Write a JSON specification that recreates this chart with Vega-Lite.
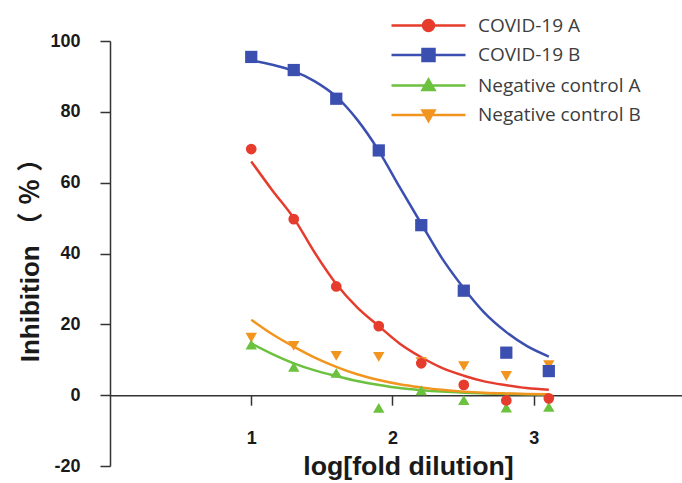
{
  "$schema": "https://vega.github.io/schema/vega-lite/v6.json",
  "width": 572,
  "height": 425,
  "autosize": {"type": "none"},
  "padding": {"left": 110, "top": 41, "right": 0, "bottom": 17},
  "background": "white",
  "config": {"view": {"stroke": null}, "axis": {"grid": false}},
  "datasets": {
    "fit": [
      {"series": "COVID-19 A", "x": 1.0, "y": 66.0}, {"series": "COVID-19 A", "x": 1.15, "y": 57.8}, {"series": "COVID-19 A", "x": 1.301, "y": 50.0}, {"series": "COVID-19 A", "x": 1.45, "y": 40.2}, {"series": "COVID-19 A", "x": 1.602, "y": 31.4}, {"series": "COVID-19 A", "x": 1.75, "y": 24.8}, {"series": "COVID-19 A", "x": 1.903, "y": 19.5}, {"series": "COVID-19 A", "x": 2.05, "y": 14.6}, {"series": "COVID-19 A", "x": 2.204, "y": 10.7}, {"series": "COVID-19 A", "x": 2.35, "y": 7.7}, {"series": "COVID-19 A", "x": 2.505, "y": 5.5}, {"series": "COVID-19 A", "x": 2.65, "y": 3.9}, {"series": "COVID-19 A", "x": 2.806, "y": 2.8}, {"series": "COVID-19 A", "x": 2.95, "y": 2.0}, {"series": "COVID-19 A", "x": 3.107, "y": 1.5},
      {"series": "COVID-19 B", "x": 1.0, "y": 94.5}, {"series": "COVID-19 B", "x": 1.15, "y": 93.3}, {"series": "COVID-19 B", "x": 1.301, "y": 91.5}, {"series": "COVID-19 B", "x": 1.45, "y": 88.6}, {"series": "COVID-19 B", "x": 1.602, "y": 84.3}, {"series": "COVID-19 B", "x": 1.75, "y": 77.8}, {"series": "COVID-19 B", "x": 1.903, "y": 69.0}, {"series": "COVID-19 B", "x": 2.05, "y": 58.8}, {"series": "COVID-19 B", "x": 2.204, "y": 48.4}, {"series": "COVID-19 B", "x": 2.35, "y": 38.7}, {"series": "COVID-19 B", "x": 2.505, "y": 30.2}, {"series": "COVID-19 B", "x": 2.65, "y": 23.3}, {"series": "COVID-19 B", "x": 2.806, "y": 17.8}, {"series": "COVID-19 B", "x": 2.95, "y": 13.9}, {"series": "COVID-19 B", "x": 3.107, "y": 10.9},
      {"series": "Negative control A", "x": 1.0, "y": 14.6}, {"series": "Negative control A", "x": 1.15, "y": 11.6}, {"series": "Negative control A", "x": 1.301, "y": 9.0}, {"series": "Negative control A", "x": 1.45, "y": 7.0}, {"series": "Negative control A", "x": 1.602, "y": 5.4}, {"series": "Negative control A", "x": 1.75, "y": 4.0}, {"series": "Negative control A", "x": 1.903, "y": 2.9}, {"series": "Negative control A", "x": 2.05, "y": 2.0}, {"series": "Negative control A", "x": 2.204, "y": 1.4}, {"series": "Negative control A", "x": 2.35, "y": 1.0}, {"series": "Negative control A", "x": 2.505, "y": 0.7}, {"series": "Negative control A", "x": 2.65, "y": 0.5}, {"series": "Negative control A", "x": 2.806, "y": 0.35}, {"series": "Negative control A", "x": 2.95, "y": 0.25}, {"series": "Negative control A", "x": 3.107, "y": 0.2},
      {"series": "Negative control B", "x": 1.0, "y": 21.3}, {"series": "Negative control B", "x": 1.15, "y": 17.2}, {"series": "Negative control B", "x": 1.301, "y": 13.7}, {"series": "Negative control B", "x": 1.45, "y": 10.6}, {"series": "Negative control B", "x": 1.602, "y": 8.0}, {"series": "Negative control B", "x": 1.75, "y": 5.9}, {"series": "Negative control B", "x": 1.903, "y": 4.3}, {"series": "Negative control B", "x": 2.05, "y": 3.1}, {"series": "Negative control B", "x": 2.204, "y": 2.2}, {"series": "Negative control B", "x": 2.35, "y": 1.5}, {"series": "Negative control B", "x": 2.505, "y": 1.0}, {"series": "Negative control B", "x": 2.65, "y": 0.7}, {"series": "Negative control B", "x": 2.806, "y": 0.5}, {"series": "Negative control B", "x": 2.95, "y": 0.35}, {"series": "Negative control B", "x": 3.107, "y": 0.25}
    ],
    "pts": [
      {"series": "Negative control B", "x": 1.0, "y": 16.2}, {"series": "Negative control B", "x": 1.301, "y": 13.9}, {"series": "Negative control B", "x": 1.602, "y": 11.1}, {"series": "Negative control B", "x": 1.903, "y": 10.8}, {"series": "Negative control B", "x": 2.204, "y": 9.3}, {"series": "Negative control B", "x": 2.505, "y": 8.2}, {"series": "Negative control B", "x": 2.806, "y": 5.4}, {"series": "Negative control B", "x": 3.107, "y": 8.5},
      {"series": "Negative control A", "x": 1.0, "y": 14.3}, {"series": "Negative control A", "x": 1.301, "y": 8.0}, {"series": "Negative control A", "x": 1.602, "y": 6.3}, {"series": "Negative control A", "x": 1.903, "y": -3.6}, {"series": "Negative control A", "x": 2.204, "y": 1.4}, {"series": "Negative control A", "x": 2.505, "y": -1.4}, {"series": "Negative control A", "x": 2.806, "y": -3.5}, {"series": "Negative control A", "x": 3.107, "y": -3.3},
      {"series": "COVID-19 B", "x": 1.0, "y": 95.5}, {"series": "COVID-19 B", "x": 1.301, "y": 91.8}, {"series": "COVID-19 B", "x": 1.602, "y": 83.7}, {"series": "COVID-19 B", "x": 1.903, "y": 69.1}, {"series": "COVID-19 B", "x": 2.204, "y": 48.0}, {"series": "COVID-19 B", "x": 2.505, "y": 29.5}, {"series": "COVID-19 B", "x": 2.806, "y": 12.0}, {"series": "COVID-19 B", "x": 3.107, "y": 6.8},
      {"series": "COVID-19 A", "x": 1.0, "y": 69.5}, {"series": "COVID-19 A", "x": 1.301, "y": 49.7}, {"series": "COVID-19 A", "x": 1.602, "y": 30.7}, {"series": "COVID-19 A", "x": 1.903, "y": 19.5}, {"series": "COVID-19 A", "x": 2.204, "y": 9.0}, {"series": "COVID-19 A", "x": 2.505, "y": 2.9}, {"series": "COVID-19 A", "x": 2.806, "y": -1.5}, {"series": "COVID-19 A", "x": 3.107, "y": -0.9}
    ]
  },
  "layer": [
    {
      "data": {"name": "fit"},
      "mark": {"type": "line", "interpolate": "monotone", "strokeWidth": 2.5},
      "encoding": {
        "x": {
          "field": "x", "type": "quantitative",
          "scale": {"domain": [0, 4.05], "nice": false, "zero": false},
          "axis": {
            "title": "log[fold dilution]", "values": [1, 2, 3], "format": "d",
            "offset": -70.83, "tickSize": 10, "labelPadding": 24,
            "labelFont": "Liberation Sans", "labelFontSize": 18, "labelFontWeight": "bold", "labelColor": "#1a1a1a",
            "domainColor": "#333333", "domainWidth": 1.5, "tickColor": "#333333", "tickWidth": 1.5,
            "titleFont": "Liberation Sans", "titleFontSize": 26.7, "titleFontWeight": "bold", "titleColor": "#1a1a1a",
            "titlePadding": 6, "titleX": 298
          }
        },
        "y": {
          "field": "y", "type": "quantitative",
          "scale": {"domain": [-20, 100], "nice": false, "zero": false},
          "axis": {
            "title": "Inhibition （ ％ ）", "values": [-20, 0, 20, 40, 60, 80, 100],
            "labelExpr": "replace(datum.label, '−', '-')",
            "tickSize": 10, "labelPadding": 20,
            "labelFont": "Liberation Sans", "labelFontSize": 18, "labelFontWeight": "bold", "labelColor": "#1a1a1a",
            "domainColor": "#333333", "domainWidth": 1.5, "tickColor": "#333333", "tickWidth": 1.5,
            "titleFont": "Liberation Sans, Noto Sans CJK SC", "titleFontSize": 26, "titleFontWeight": "bold", "titleColor": "#1a1a1a", "titlePadding": 6,
            "titleLimit": 400
          }
        },
        "color": {
          "field": "series", "type": "nominal",
          "scale": {
            "domain": ["COVID-19 A", "COVID-19 B", "Negative control A", "Negative control B"],
            "range": ["#e63c2d", "#3b4fb0", "#6cc13f", "#f2951f"]
          },
          "legend": {
            "title": null, "orient": "none", "direction": "vertical",
            "legendX": 307, "legendY": -27, "padding": 0,
            "labelFont": "Open Sans", "labelFontSize": 19, "labelColor": "#3d3d3d", "labelLimit": 300,
            "labelOffset": 38, "rowPadding": 7.5, "symbolSize": 400, "symbolStrokeWidth": 2.5,
            "encode": {
              "symbols": {
                "update": {
                  "shape": {"signal": "datum.value == 'COVID-19 A' ? 'M-3.7,0H3.7M0.55,0A0.55,0.55,0,1,1,-0.55,0A0.55,0.55,0,1,1,0.55,0Z' : datum.value == 'COVID-19 B' ? 'M-3.7,0H3.7M-0.6,-0.6H0.6V0.6H-0.6Z' : datum.value == 'Negative control A' ? 'M-3.7,0H3.7M0,-0.6L0.6,0.45H-0.6Z' : 'M-3.7,0H3.7M0,0.6L0.6,-0.45H-0.6Z'"},
                  "fill": {"signal": "scale('color', datum.value)"},
                  "stroke": {"signal": "scale('color', datum.value)"},
                  "strokeWidth": {"value": 2.5},
                  "opacity": {"value": 1},
                  "size": {"value": 400}
                }
              }
            }
          }
        }
      }
    },
    {
      "data": {"name": "pts"},
      "transform": [{"filter": "datum.series == 'Negative control B'"}],
      "mark": {"type": "point", "shape": "triangle-down", "filled": true, "opacity": 1, "size": 130},
      "encoding": {
        "x": {"field": "x", "type": "quantitative"},
        "y": {"field": "y", "type": "quantitative"},
        "color": {"field": "series", "type": "nominal"}
      }
    },
    {
      "data": {"name": "pts"},
      "transform": [{"filter": "datum.series == 'Negative control A'"}],
      "mark": {"type": "point", "shape": "triangle-up", "filled": true, "opacity": 1, "size": 130},
      "encoding": {
        "x": {"field": "x", "type": "quantitative"},
        "y": {"field": "y", "type": "quantitative"},
        "color": {"field": "series", "type": "nominal"}
      }
    },
    {
      "data": {"name": "pts"},
      "transform": [{"filter": "datum.series == 'COVID-19 B'"}],
      "mark": {"type": "point", "shape": "square", "filled": true, "opacity": 1, "size": 150},
      "encoding": {
        "x": {"field": "x", "type": "quantitative"},
        "y": {"field": "y", "type": "quantitative"},
        "color": {"field": "series", "type": "nominal"}
      }
    },
    {
      "data": {"name": "pts"},
      "transform": [{"filter": "datum.series == 'COVID-19 A'"}],
      "mark": {"type": "point", "shape": "circle", "filled": true, "opacity": 1, "size": 115},
      "encoding": {
        "x": {"field": "x", "type": "quantitative"},
        "y": {"field": "y", "type": "quantitative"},
        "color": {"field": "series", "type": "nominal"}
      }
    }
  ]
}
